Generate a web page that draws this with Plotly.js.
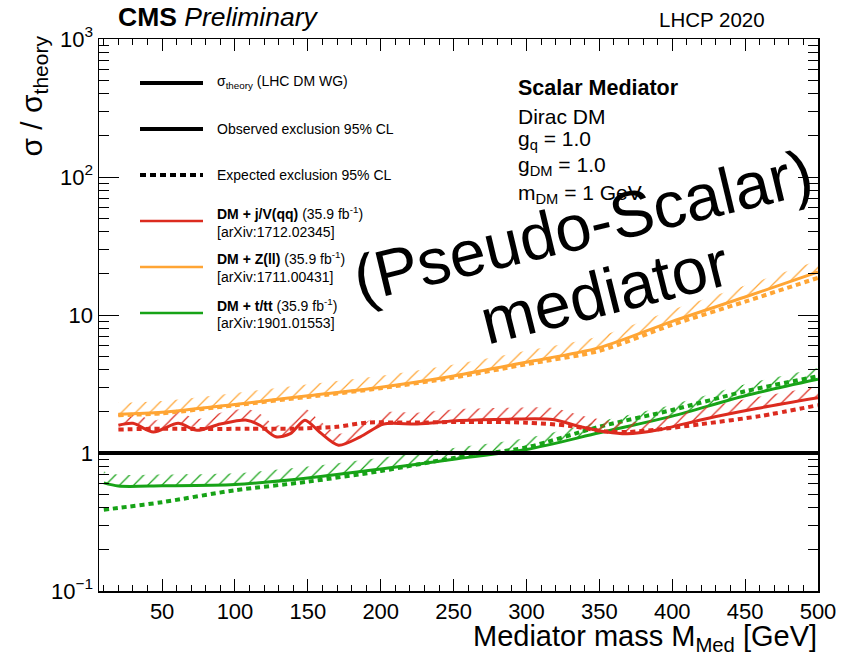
<!DOCTYPE html>
<html>
<head>
<meta charset="utf-8">
<script src="https://cdn.plot.ly/plotly-3.0.1.min.js"></script>
<style>html,body{margin:0;padding:0;background:#fff;}#chart{width:850px;height:656px;}</style>
</head>
<body>
<div id="chart"></div>
<script>
// ---------- data ----------
const massJV = [20, 30, 44, 61, 74, 90, 108, 117, 128, 138, 148, 158, 171, 186, 202, 225, 254, 290, 318, 337, 355, 369, 389, 424, 458, 500];
const obsJV  = [1.59, 1.64, 1.42, 1.64, 1.46, 1.62, 1.73, 1.59, 1.31, 1.38, 1.73, 1.42, 1.14, 1.31, 1.62, 1.62, 1.72, 1.76, 1.75, 1.55, 1.42, 1.38, 1.46, 1.78, 2.10, 2.51];
const massJVexp = [20, 50, 80, 110, 140, 170, 190, 220, 260, 300, 330, 355, 370, 390, 420, 460, 500];
const expJV  = [1.48, 1.50, 1.49, 1.50, 1.50, 1.55, 1.66, 1.66, 1.68, 1.66, 1.57, 1.43, 1.42, 1.48, 1.62, 1.85, 2.22];

const massZ = [20, 50, 100, 150, 200, 250, 300, 350, 400, 450, 500];
const obsZ  = [1.91, 1.97, 2.25, 2.60, 3.00, 3.62, 4.55, 5.80, 9.00, 13.5, 20.5];
const expZ  = [1.88, 1.94, 2.22, 2.55, 2.95, 3.52, 4.40, 5.50, 8.50, 12.5, 18.6];

const massTT = [10, 20, 50, 100, 150, 200, 250, 300, 350, 400, 450, 500];
const obsTT  = [0.607, 0.576, 0.578, 0.59, 0.66, 0.765, 0.90, 1.06, 1.40, 1.85, 2.60, 3.42];
const expTT  = [0.388, 0.40, 0.44, 0.537, 0.62, 0.74, 0.92, 1.10, 1.55, 2.05, 2.80, 3.60];

const theoryX = [6.7, 500];
const theoryY = [1, 1];

const xTickVals = [50, 100, 150, 200, 250, 300, 350, 400, 450, 500];
const xTickText = ['50', '100', '150', '200', '250', '300', '350', '400', '450', '500'];
const yTickVals = [0.1, 1, 10, 100, 1000];
const yTickText = ['10<sup>\u22121</sup>', '1', '10', '10<sup>2</sup>', '10<sup>3</sup>'];
const yMinorVals = [0.2,0.3,0.4,0.5,0.6,0.7,0.8,0.9, 2,3,4,5,6,7,8,9, 20,30,40,50,60,70,80,90, 200,300,400,500,600,700,800,900];

const legendLabels = [
  'σ<sub>theory</sub> (LHC DM WG)',
  'Observed exclusion 95% CL',
  'Expected exclusion 95% CL',
  '<b>DM + j/V(qq)</b> (35.9 fb<sup>-1</sup>)',
  '[arXiv:1712.02345]',
  '<b>DM + Z(ll)</b> (35.9 fb<sup>-1</sup>)',
  '[arXiv:1711.00431]',
  '<b>DM + t/tt</b> (35.9 fb<sup>-1</sup>)',
  '[arXiv:1901.01553]'
];

// ---------- style ----------
const RED = '#dc2b1f', ORANGE = '#ffa534', GREEN = '#17a317';
const FONT = 'Liberation Sans, Arial, Helvetica, sans-serif';
const HATCH = 1.21; // hatch band height (multiplicative, log axis)

const W = 850, H = 656, ML = 99, MR = 32, MT = 39, MB = 65;
const PW = W - ML - MR, PH = H - MT - MB;
const px = x => (x - ML) / PW;
const py = y => (H - MB - y) / PH;

function hatchPair(xs, ys, color) {
  return [
    {x: xs, y: ys, mode: 'lines', line: {color: color, width: 3, shape: 'spline', smoothing: 0.8}, hoverinfo: 'skip'},
    {x: xs, y: ys.map(v => v * HATCH), mode: 'lines', line: {width: 0, shape: 'spline', smoothing: 0.8},
     fill: 'tonexty', fillcolor: 'rgba(0,0,0,0)',
     fillpattern: {shape: '/', size: 10, solidity: 0.12, fgcolor: color, bgcolor: 'rgba(0,0,0,0)'}, hoverinfo: 'skip'}
  ];
}
function expLine(xs, ys, color) {
  return {x: xs, y: ys, mode: 'lines', line: {color: color, width: 4, dash: '5px,4px', shape: 'spline', smoothing: 0.8}, hoverinfo: 'skip'};
}

const traces = [
  ...hatchPair(massTT, obsTT, GREEN),
  expLine(massTT, expTT, GREEN),
  ...hatchPair(massJV, obsJV, RED),
  expLine(massJVexp, expJV, RED),
  ...hatchPair(massZ, obsZ, ORANGE),
  expLine(massZ, expZ, ORANGE),
  {x: theoryX, y: theoryY, mode: 'lines', line: {color: '#000', width: 4}, hoverinfo: 'skip'}
];

// legend samples
const legLineY = [83, 129, 175, 221, 267, 313];
const legLineStyle = [
  {color: '#000', width: 4},
  {color: '#000', width: 4},
  {color: '#000', width: 4, dash: '6px,4px'},
  {color: RED, width: 2.5},
  {color: ORANGE, width: 2.5},
  {color: GREEN, width: 2.5}
];
const shapes = legLineY.map((y, i) => ({
  type: 'line', xref: 'paper', yref: 'paper', x0: px(140), x1: px(203), y0: py(y), y1: py(y), line: legLineStyle[i]
}));

const legTextY = [82, 129, 175, 213, 232, 258, 277, 305, 323];
const annotations = legendLabels.map((t, i) => ({
  text: t, xref: 'paper', yref: 'paper', x: px(215), y: py(legTextY[i]), xanchor: 'left', yanchor: 'middle',
  showarrow: false, font: {family: FONT, size: 14, color: '#000'}
}));

const infoLines = [
  {t: '<b>Scalar Mediator</b>', y: 88, s: 21.5},
  {t: 'Dirac DM', y: 117, s: 21},
  {t: 'g<sub>q</sub> = 1.0', y: 140, s: 21},
  {t: 'g<sub>DM</sub> = 1.0', y: 166, s: 21},
  {t: 'm<sub>DM</sub> = 1 GeV', y: 194, s: 21}
];
infoLines.forEach(o => annotations.push({
  text: o.t, xref: 'paper', yref: 'paper', x: px(516), y: py(o.y), xanchor: 'left', yanchor: 'middle',
  showarrow: false, font: {family: FONT, size: o.s, color: '#000'}
}));

annotations.push(
  {text: '<b>CMS</b> <i>Preliminary</i>', xref: 'paper', yref: 'paper', x: px(116), y: py(17), xanchor: 'left', yanchor: 'middle',
   showarrow: false, font: {family: FONT, size: 26.5, color: '#000'}},
  {text: 'LHCP 2020', xref: 'paper', yref: 'paper', x: px(767), y: py(20), xanchor: 'right', yanchor: 'middle',
   showarrow: false, font: {family: FONT, size: 20.5, color: '#000'}},
  {text: 'σ / σ<sub>theory</sub>', xref: 'paper', yref: 'paper', x: px(33), y: py(34), xanchor: 'center', yanchor: 'top',
   textangle: -90, showarrow: false, font: {family: FONT, size: 30, color: '#000'}},
  {text: 'Mediator mass M<sub>Med</sub> [GeV]', xref: 'paper', yref: 'paper', x: px(819), y: py(638), xanchor: 'right', yanchor: 'middle',
   showarrow: false, font: {family: FONT, size: 29, color: '#000'}},
  {text: '(Pseudo-Scalar)', xref: 'paper', yref: 'paper', x: px(583), y: py(226), xanchor: 'center', yanchor: 'middle',
   textangle: -13.5, showarrow: false, font: {family: FONT, size: 65, color: '#000'}},
  {text: 'mediator', xref: 'paper', yref: 'paper', x: px(604), y: py(292), xanchor: 'center', yanchor: 'middle',
   textangle: -14, showarrow: false, font: {family: FONT, size: 65, color: '#000'}}
);

const layout = {
  width: W, height: H,
  margin: {l: ML, r: MR, t: MT, b: MB, pad: 0},
  paper_bgcolor: '#fff', plot_bgcolor: '#fff',
  showlegend: false,
  font: {family: FONT, color: '#000'},
  xaxis: {
    range: [6.7, 500], tickmode: 'array', tickvals: xTickVals, ticktext: xTickText,
    ticks: 'inside', ticklen: 12, tickwidth: 1, tickcolor: '#000',
    showline: true, linecolor: '#000', linewidth: 1.5, mirror: 'allticks',
    showgrid: false, zeroline: false,
    tickfont: {family: FONT, size: 22, color: '#000'},
    minor: {dtick: 10, tick0: 0, ticks: 'inside', ticklen: 6, tickwidth: 1, tickcolor: '#000', showgrid: false}
  },
  yaxis: {
    type: 'log', range: [-1, 3], tickmode: 'array', tickvals: yTickVals, ticktext: yTickText,
    ticks: 'inside', ticklen: 20, tickwidth: 1, tickcolor: '#000',
    showline: true, linecolor: '#000', linewidth: 1.5, mirror: 'allticks',
    showgrid: false, zeroline: false,
    tickfont: {family: FONT, size: 22, color: '#000'},
    minor: {tickmode: 'array', tickvals: yMinorVals, ticks: 'inside', ticklen: 10, tickwidth: 1, tickcolor: '#000', showgrid: false}
  },
  shapes: shapes,
  annotations: annotations
};

Plotly.newPlot('chart', traces, layout, {staticPlot: true, displayModeBar: false});
</script>
</body>
</html>
